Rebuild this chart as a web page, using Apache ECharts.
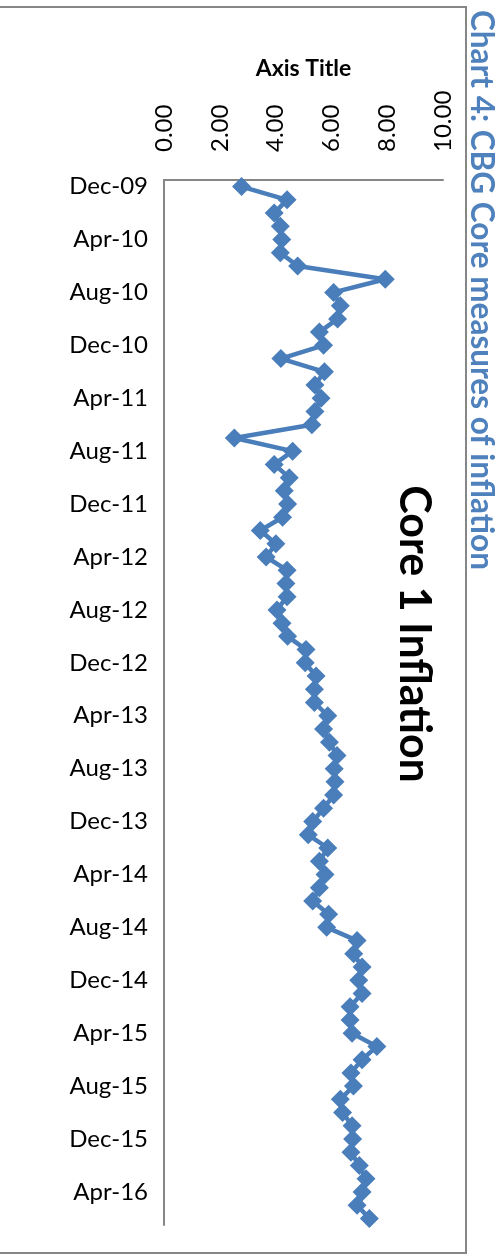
<!DOCTYPE html>
<html>
<head>
<meta charset="utf-8">
<script src="https://cdn.jsdelivr.net/npm/echarts@6/dist/echarts.min.js"></script>
<style>
  html, body { margin: 0; padding: 0; background: #fff; }
  #chart { width: 503px; height: 1260px; }
</style>
</head>
<body>
<div id="chart"></div>
<script>
// Monthly periods, Dec-09 through Jun-16
const months = [
  'Dec-09',
  'Jan-10','Feb-10','Mar-10','Apr-10','May-10','Jun-10','Jul-10','Aug-10','Sep-10','Oct-10','Nov-10','Dec-10',
  'Jan-11','Feb-11','Mar-11','Apr-11','May-11','Jun-11','Jul-11','Aug-11','Sep-11','Oct-11','Nov-11','Dec-11',
  'Jan-12','Feb-12','Mar-12','Apr-12','May-12','Jun-12','Jul-12','Aug-12','Sep-12','Oct-12','Nov-12','Dec-12',
  'Jan-13','Feb-13','Mar-13','Apr-13','May-13','Jun-13','Jul-13','Aug-13','Sep-13','Oct-13','Nov-13','Dec-13',
  'Jan-14','Feb-14','Mar-14','Apr-14','May-14','Jun-14','Jul-14','Aug-14','Sep-14','Oct-14','Nov-14','Dec-14',
  'Jan-15','Feb-15','Mar-15','Apr-15','May-15','Jun-15','Jul-15','Aug-15','Sep-15','Oct-15','Nov-15','Dec-15',
  'Jan-16','Feb-16','Mar-16','Apr-16','May-16','Jun-16'
];

// Core 1 inflation, % year on year
const core1 = [
  2.78,
  4.41, 3.95, 4.17, 4.22, 4.17, 4.79, 7.93, 6.08, 6.32, 6.22, 5.57, 5.72,
  4.19, 5.75, 5.41, 5.63, 5.41, 5.30, 2.52, 4.61, 3.95, 4.49, 4.31, 4.43,
  4.25, 3.45, 4.01, 3.66, 4.41, 4.37, 4.41, 4.05, 4.23, 4.43, 5.09, 5.06,
  5.45, 5.39, 5.39, 5.87, 5.72, 5.93, 6.20, 6.10, 6.13, 6.08, 5.72, 5.33,
  5.17, 5.87, 5.57, 5.77, 5.57, 5.33, 5.90, 5.83, 6.92, 6.80, 7.10, 6.98,
  7.10, 6.67, 6.67, 6.74, 7.63, 7.10, 6.70, 6.79, 6.32, 6.40, 6.74, 6.76,
  6.70, 7.00, 7.24, 7.10, 6.92, 7.36
];

const valueTicks = [0, 2, 4, 6, 8, 10];

const chartTitle = 'Chart 4: CBG Core measures of inflation';
const seriesTitle = 'Core 1 Inflation';
const valueAxisName = 'Axis Title';

const FONT = 'Lato, "Open Sans", "Noto Sans", sans-serif';
const BLUE = '#4A7EBB';
const AXIS_GREY = '#868686';

const chart = echarts.init(document.getElementById('chart'), null, { renderer: 'canvas' });

chart.setOption({
  animation: false,
  backgroundColor: '#ffffff',
  textStyle: { fontFamily: FONT },
  grid: { left: 164, top: 180, width: 279, height: 1045, containLabel: false },
  xAxis: {
    type: 'value',
    position: 'top',
    min: valueTicks[0],
    max: valueTicks[valueTicks.length - 1],
    interval: valueTicks[1] - valueTicks[0],
    name: valueAxisName,
    nameLocation: 'middle',
    nameGap: 100,
    nameTextStyle: { fontFamily: FONT, fontSize: 23, fontWeight: 'bold', color: '#000' },
    axisLine: { show: true, onZero: false, lineStyle: { color: AXIS_GREY, width: 2 } },
    axisTick: { show: false },
    splitLine: { show: false },
    axisLabel: {
      rotate: -90,
      margin: 28,
      fontSize: 24,
      color: '#000',
      fontFamily: FONT,
      formatter: v => v.toFixed(2)
    }
  },
  yAxis: {
    type: 'category',
    inverse: true,
    data: months,
    boundaryGap: true,
    axisLine: { show: true, lineStyle: { color: AXIS_GREY, width: 2 } },
    axisTick: { show: false },
    splitLine: { show: false },
    axisLabel: {
      interval: 3,
      margin: 16,
      fontSize: 24,
      color: '#000',
      fontFamily: FONT
    }
  },
  series: [{
    type: 'line',
    name: seriesTitle,
    data: core1,
    symbol: 'diamond',
    symbolSize: 19,
    showAllSymbol: true,
    lineStyle: { color: BLUE, width: 4.5 },
    itemStyle: { color: BLUE },
    z: 3
  }],
  graphic: [
    {
      type: 'rect',
      shape: { x: -10, y: 7, width: 476, height: 1246 },
      style: { fill: 'none', stroke: AXIS_GREY, lineWidth: 2 },
      silent: true, z: 0
    },
    {
      type: 'text',
      x: 414, y: 634,
      rotation: -Math.PI / 2,
      style: {
        text: seriesTitle,
        x: 0, y: 0,
        align: 'center', verticalAlign: 'middle',
        fontFamily: FONT, fontSize: 43, fontWeight: 'bold', fill: '#000'
      },
      silent: true
    },
    {
      type: 'text',
      x: 481, y: 10,
      rotation: -Math.PI / 2,
      style: {
        text: chartTitle,
        x: 0, y: 0,
        align: 'left', verticalAlign: 'middle',
        fontFamily: FONT, fontSize: 31.5, fontWeight: 'bold', fill: '#4F81BD'
      },
      silent: true
    }
  ]
});
</script>
</body>
</html>
